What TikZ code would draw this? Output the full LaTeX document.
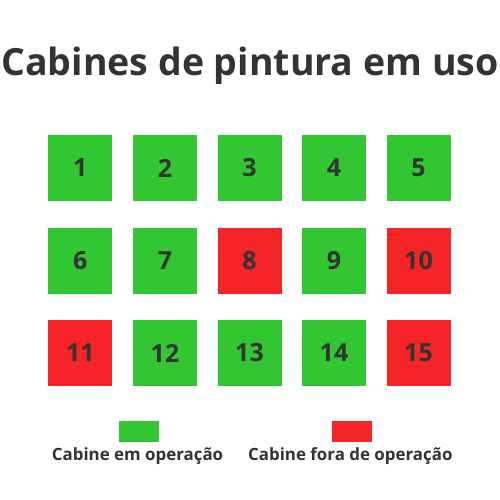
\documentclass[tikz,border=0pt]{standalone}
\usepackage{fontspec}
\setmainfont{Open Sans}
\definecolor{okgreen}{RGB}{51,198,51}
\definecolor{offred}{RGB}{244,36,39}
\definecolor{txt}{RGB}{51,51,51}
\begin{document}
\begin{tikzpicture}[x=1pt,y=-1pt,
  cab/.style={minimum width=64pt,minimum height=66pt,inner sep=0pt,text=txt,font=\fontsize{25}{25}\selectfont\bfseries},
  on/.style={cab,fill=okgreen},
  off/.style={cab,fill=offred},
  leg/.style={text=txt,font=\fontsize{16.9}{16.9}\selectfont\bfseries,anchor=base}]
\useasboundingbox (0,0) rectangle (500,500);
\node[text=txt,font=\fontsize{37.5}{37.5}\selectfont\bfseries,anchor=base] (title) at (250,76) {Cabines de pintura em uso};
\foreach \n/\x/\y/\s in {1/80.3/168/on,2/165/168/on,3/249.5/168/on,4/334/168/on,5/418.5/168/on,
  6/80.3/260.5/on,7/165/260.5/on,8/249.5/260.5/off,9/334/260.5/on,10/418.5/260.5/off,
  11/80.3/353/off,12/165/353/on,13/249.5/353/on,14/334/353/on,15/418.5/353/off}
  \node[\s] (c\n) at (\x,\y) {\n};
\node[fill=okgreen,minimum width=40pt,minimum height=21pt,inner sep=0pt] (lg) at (139,431.5) {};
\node[fill=offred,minimum width=40pt,minimum height=21pt,inner sep=0pt] (lr) at (352.3,431.5) {};
\node[leg] (tg) at (137.5,460) {Cabine em operação};
\node[leg] (tr) at (350.3,460) {Cabine fora de operação};
\end{tikzpicture}
\end{document}
